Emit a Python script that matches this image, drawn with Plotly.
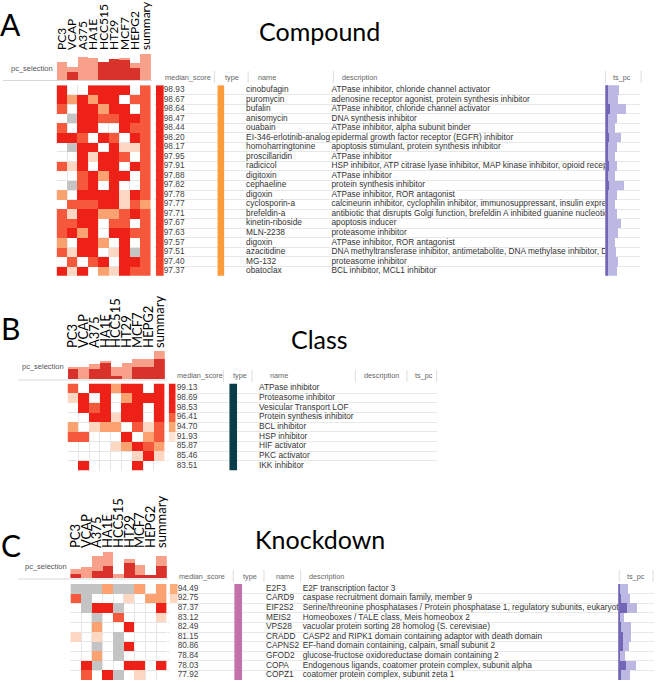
import plotly.graph_objects as go

W, H = 656, 682

CELL_LINES = ["PC3", "VCAP", "A375", "HA1E", "HCC515", "HT29", "MCF7", "HEPG2", "summary"]

# ---------------- Panel A : Compound ----------------
A_names = ["cinobufagin", "puromycin", "bufalin", "anisomycin", "ouabain",
           "EI-346-erlotinib-analog", "homoharringtonine", "proscillaridin", "radicicol",
           "digitoxin", "cephaeline", "digoxin", "cyclosporin-a", "brefeldin-a",
           "kinetin-riboside", "MLN-2238", "digoxin", "azacitidine", "MG-132", "obatoclax"]
A_desc = ["ATPase inhibitor, chloride channel activator",
          "adenosine receptor agonist, protein synthesis inhibitor",
          "ATPase inhibitor, chloride channel activator",
          "DNA synthesis inhibitor",
          "ATPase inhibitor, alpha subunit binder",
          "epidermal growth factor receptor (EGFR) inhibitor",
          "apoptosis stimulant, protein synthesis inhibitor",
          "ATPase inhibitor",
          "HSP inhibitor, ATP citrase lyase inhibitor, MAP kinase inhibitor, opioid receptor antagonist",
          "ATPase inhibitor",
          "protein synthesis inhibitor",
          "ATPase inhibitor, ROR antagonist",
          "calcineurin inhibitor, cyclophilin inhibitor, immunosuppressant, insulin expression inhibitor",
          "antibiotic that disrupts Golgi function, brefeldin A inhibited guanine nucleotide-exchange protein inhibitor",
          "apoptosis inducer",
          "proteasome inhibitor",
          "ATPase inhibitor, ROR antagonist",
          "DNA methyltransferase inhibitor, antimetabolite, DNA methylase inhibitor, DNA synthesis inhibitor",
          "proteasome inhibitor",
          "BCL inhibitor, MCL1 inhibitor"]
A_median = [98.93, 98.67, 98.64, 98.47, 98.44, 98.20, 98.17, 97.95, 97.91, 97.88,
            97.82, 97.78, 97.77, 97.71, 97.67, 97.63, 97.57, 97.51, 97.40, 97.37]
A_type = "compound"
# cell levels: 0 = none (white), 1..4 = increasing connectivity, -1 = not available (grey)
A_cells = [
    [4, 0, 0, 4, 4, 4, 4, 0, 3],
    [4, 2, 4, 2, 4, 4, 0, 3, 3],
    [3, 0, 4, 4, 2, 4, 4, 0, 3],
    [0, -1, 4, 4, 3, 3, 4, 4, 3],
    [3, 0, 4, 4, 0, 0, 4, 3, 3],
    [4, 4, 3, 0, 4, 3, 0, 4, 3],
    [0, -1, 4, 4, 0, 4, 1, 1, 3],
    [0, 0, 4, 1, 4, 4, 3, 0, 3],
    [3, 1, 4, 0, 4, 4, 0, 4, 3],
    [0, 0, 3, 4, 2, 4, 4, 0, 3],
    [0, -1, 3, 4, 0, 4, 0, 0, 3],
    [2, 0, 4, 4, 4, 4, 1, 4, 3],
    [0, 3, 3, 3, 4, 4, 1, 3, 2],
    [3, 1, 4, 4, 2, 2, 3, 4, 3],
    [3, 3, 4, 4, 0, 3, 3, 0, 3],
    [3, 4, 2, 4, 0, 4, 4, 3, 3],
    [2, 0, 4, 4, 2, 0, 4, 0, 3],
    [3, 1, 4, 4, 0, 1, 4, -1, 3],
    [0, 3, 0, 3, 4, 0, 4, 4, 3],
    [4, 1, 4, 0, 2, 1, 4, 3, 3],
]
A_pc_total = [18, 13, 23, 22, 18, 21, 22, 17, 26]
A_pc_sel = [0, 8, 0, 0, 18, 21, 20, 12, 0]
A_ts_light = [14, 13, 21, 12, 10, 16, 12, 10, 12, 10, 19, 12, 10, 12, 16, 13, 10, 11, 13, 12]
A_ts_dark = [3, 3, 5, 3, 3, 4, 3, 3, 4, 3, 4, 3, 3, 3, 3, 3, 3, 3, 3, 3]

# ---------------- Panel B : Class ----------------
B_names = ["ATPase inhibitor", "Proteasome inhibitor", "Vesicular Transport LOF",
           "Protein synthesis inhibitor", "BCL inhibitor", "HSP inhibitor",
           "HIF activator", "PKC activator", "IKK inhibitor"]
B_desc = [""] * 9
B_median = [99.13, 98.69, 98.53, 96.41, 94.70, 91.93, 85.87, 85.46, 83.51]
B_type = "class"
B_cells = [
    [3, 0, 4, 4, 2, 4, 4, 0, 4],
    [1, 4, 0, 4, 0, 2, 4, 4, 4],
    [0, 4, 3, 4, 0, 4, 4, 0, 4],
    [0, 0, 4, 4, 1, 4, 4, 0, 4],
    [2, 0, 1, 2, 2, 0, 3, 1, 3],
    [3, 3, 0, 0, 0, 4, 0, 2, 3],
    [0, 0, 0, 0, 1, 2, 4, 3, 2],
    [0, 0, 0, 0, 0, 0, 1, 4, 1],
    [0, 4, 0, 0, 0, 0, 4, 0, 0],
]
B_pc_total = [12, 12, 15, 18, 12, 16, 20, 20, 28]
B_pc_sel = [10, 0, 10, 16, 3, 0, 12, 12, 20]

# ---------------- Panel C : Knockdown ----------------
C_names = ["E2F3", "CARD9", "EIF2S2", "MEIS2", "VPS28", "CRADD", "CAPNS2", "GFOD2", "COPA", "COPZ1"]
C_desc = ["E2F transcription factor 3",
          "caspase recruitment domain family, member 9",
          "Serine/threonine phosphatases / Protein phosphatase 1, regulatory subunits, eukaryotic translation initiation factor 2",
          "Homeoboxes / TALE class, Meis homeobox 2",
          "vacuolar protein sorting 28 homolog (S. cerevisiae)",
          "CASP2 and RIPK1 domain containing adaptor with death domain",
          "EF-hand domain containing, calpain, small subunit 2",
          "glucose-fructose oxidoreductase domain containing 2",
          "Endogenous ligands, coatomer protein complex, subunit alpha",
          "coatomer protein complex, subunit zeta 1"]
C_median = [94.49, 92.75, 87.37, 83.12, 82.49, 81.15, 80.86, 78.84, 78.03, 77.92]
C_type = "knockdown"
C_cells = [
    [-1, -1, -1, 2, -1, -1, 2, 0, 2],
    [3, -1, 0, 0, 0, 1, 0, 2, 2],
    [0, -1, 4, 4, -1, 0, 0, 0, 4],
    [0, 0, -1, 0, 3, 0, 0, 0, 1],
    [0, 0, 2, 0, 0, 4, 0, 0, 0],
    [1, 0, 1, 0, -1, 0, 0, 0, 0],
    [0, 0, -1, 0, -1, 4, 0, 0, 0],
    [0, 0, 2, 0, -1, 0, 0, 0, 0],
    [0, 4, -1, 0, 0, 4, 4, 0, 4],
    [0, 3, 0, 4, -1, 0, 1, 0, 0],
]
C_pc_total = [9, 11, 22, 26, 4, 19, 13, 3, 22]
C_pc_sel = [4, 0, 7, 12, 0, 15, 3, 3, 12]
C_ts_light = [10, 12, 19, 6, 13, 13, 11, 7, 18, 12]
C_ts_dark = [2, 3, 9, 2, 3, 5, 5, 2, 8, 3]

# ---------------- styles ----------------
TYPE_COLORS = {"compound": "#fd9a3a", "class": "#0b3d48", "knockdown": "#c470aa"}
CELL_SCALE = [[0, "#c4c4c4"], [0.2, "#c4c4c4"], [0.2, "#fdd7c2"], [0.4, "#fdd7c2"],
              [0.6, "#fba270"], [0.8, "#f5583a"], [1, "#ee2119"]]
MED_SCALE = [[0, "#ffffff"], [0.2, "#ffffff"], [0.36, "#fde4d4"], [0.5, "#fdc9a8"],
             [0.6, "#fbab74"], [0.76, "#f6643f"], [0.9, "#f02d20"], [1, "#ec1c16"]]
PC_LIGHT, PC_DARK = "#f8a089", "#d9322a"
TS_LIGHT, TS_DARK = "#bcb8e4", "#7466b6"
TXT = "Liberation Sans"
HEAD = "Lato"

fig = go.Figure()
LAYOUT = {}
SHAPES = []
ANN = []
counter = [0]


def px_x(a):
    return a / W


def px_y(b):
    return 1 - b / H


BASE_AX = dict(showgrid=False, zeroline=False, showticklabels=False, showline=False,
               ticks="", fixedrange=True)


def add_axes(x0, x1, y0, y1, xkw=None, ykw=None):
    counter[0] += 1
    n = counter[0]
    s = "" if n == 1 else str(n)
    xa = dict(BASE_AX)
    xa.update(domain=[px_x(x0), px_x(x1)], anchor="y" + s)
    if xkw:
        xa.update(xkw)
    ya = dict(BASE_AX)
    ya.update(domain=[px_y(y1), px_y(y0)], anchor="x" + s)
    if ykw:
        ya.update(ykw)
    LAYOUT["xaxis" + s] = xa
    LAYOUT["yaxis" + s] = ya
    return "x" + s, "y" + s


def text_col(xr, yr, xpos, texts, color, size=8.3):
    fig.add_trace(go.Scatter(x=[xpos] * len(texts), y=list(range(len(texts))), text=texts,
                             mode="text", textposition="middle right", cliponaxis=True,
                             textfont=dict(family=TXT, size=size, color=color),
                             hoverinfo="skip", showlegend=False, xaxis=xr, yaxis=yr))


def panel(letter, title, cells, names, desc, median, typ, pc_total, pc_sel, ts_light, ts_dark, g):
    n = len(names)
    r0, r1 = g["rows"]
    rev = [n - 0.5, -0.5]
    bounds = [k + 0.5 for k in range(n)]
    grid_y = dict(range=rev, showgrid=True, gridcolor="#e8e8e8", gridwidth=1,
                  tickmode="array", tickvals=bounds)

    # table (text + row lines)
    t0, t1 = g["tbl"]
    xr, yr = add_axes(t0, t1, r0, r1, xkw=dict(range=[t0, t1]), ykw=grid_y)
    text_col(xr, yr, g["val_x"], [f"{v:.2f}" for v in median], "#444444")
    text_col(xr, yr, g["name_x"], names, "#333333")
    text_col(xr, yr, g["desc_x"], desc, "#333333")

    # ts_pc bars
    if ts_light is not None:
        s0, s1 = g["ts"]
        xr, yr = add_axes(s0, s1, r0, r1, xkw=dict(range=[0, s1 - s0]), ykw=grid_y)
        fig.add_trace(go.Bar(y=list(range(n)), x=ts_light, orientation="h", width=1,
                             marker=dict(color=TS_LIGHT, line_width=0), hoverinfo="skip",
                             showlegend=False, xaxis=xr, yaxis=yr))
        fig.add_trace(go.Bar(y=list(range(n)), x=ts_dark, orientation="h", width=1,
                             marker=dict(color=TS_DARK, line_width=0), hoverinfo="skip",
                             showlegend=False, xaxis=xr, yaxis=yr))

    # median score colour bar
    m0, m1 = g["med"]
    xr, yr = add_axes(m0, m1, r0, r1, xkw=dict(range=[-0.5, 0.5]), ykw=dict(range=rev))
    fig.add_trace(go.Heatmap(z=[[v] for v in median], x=[0], y=list(range(n)),
                             colorscale=MED_SCALE, zmin=88, zmax=99, showscale=False,
                             hoverinfo="skip", xaxis=xr, yaxis=yr))

    # type bar
    c = TYPE_COLORS[typ]
    y0_, y1_ = g["typ"]
    xr, yr = add_axes(y0_, y1_, r0, r1, xkw=dict(range=[-0.5, 0.5]), ykw=dict(range=rev))
    fig.add_trace(go.Heatmap(z=[[1] for _ in range(n)], x=[0], y=list(range(n)),
                             colorscale=[[0, c], [1, c]], showscale=False,
                             hoverinfo="skip", xaxis=xr, yaxis=yr))

    # pc_selection bars with cell line labels on top
    h0, h1 = g["hm"]
    p0, p1 = g["pc"]
    xr, yr = add_axes(h0, h1, p0, p1,
                      xkw=dict(range=[-0.5, 8.5], side="top", showticklabels=True,
                               tickmode="array", tickvals=list(range(9)), ticktext=CELL_LINES,
                               tickangle=-90, ticklabelstandoff=1,
                               tickfont=dict(family=HEAD, size=g["lab_size"], color="black")),
                      ykw=dict(range=[0, p1 - p0]))
    fig.add_trace(go.Bar(x=list(range(9)), y=pc_total, width=1,
                         marker=dict(color=PC_LIGHT, line_width=0), hoverinfo="skip",
                         showlegend=False, xaxis=xr, yaxis=yr))
    fig.add_trace(go.Bar(x=list(range(9)), y=pc_sel, width=1,
                         marker=dict(color=PC_DARK, line_width=0), hoverinfo="skip",
                         showlegend=False, xaxis=xr, yaxis=yr))

    # heatmap of cell lines
    zz = [[None if v == 0 else v for v in row] for row in cells]
    xr, yr = add_axes(h0, h1, r0, r1,
                      xkw=dict(range=[-0.5, 8.5], showgrid=True, gridcolor="#e6e6e6",
                               tickmode="array", tickvals=[k - 0.5 for k in range(10)]),
                      ykw=dict(range=rev, showgrid=True, gridcolor="#e6e6e6",
                               tickmode="array", tickvals=[k - 0.5 for k in range(n + 1)]))
    fig.add_trace(go.Heatmap(z=zz, x=list(range(9)), y=list(range(n)), colorscale=CELL_SCALE,
                             zmin=-1, zmax=4, showscale=False, hoverinfo="skip",
                             xaxis=xr, yaxis=yr))

    # annotations
    ANN.append(dict(text=letter, x=px_x(g["letter"][0]), y=px_y(g["letter"][1]),
                    xref="paper", yref="paper", xanchor="center", yanchor="middle",
                    showarrow=False, font=dict(family=HEAD, size=30, color="black")))
    ANN.append(dict(text=title, x=px_x(319), y=px_y(g["title_y"]), xref="paper", yref="paper",
                    xanchor="center", yanchor="middle", showarrow=False,
                    font=dict(family=HEAD, size=25, color="black")))
    ANN.append(dict(text="pc_selection", x=px_x(g["pcl"][0]), y=px_y(g["pcl"][1]),
                    xref="paper", yref="paper", xanchor="right", yanchor="middle",
                    showarrow=False, font=dict(family=TXT, size=7.5, color="#555555")))
    for txt, hx in g["headers"]:
        ANN.append(dict(text=txt, x=px_x(hx), y=px_y(g["head_y"]), xref="paper", yref="paper",
                        xanchor="left", yanchor="middle", showarrow=False,
                        font=dict(family=TXT, size=7.3, color="#666666")))
    for sx in g["seps"]:
        SHAPES.append(dict(type="line", xref="paper", yref="paper", x0=px_x(sx), x1=px_x(sx),
                           y0=px_y(g["head_y"] - 6), y1=px_y(g["head_y"] + 6),
                           line=dict(color="#dddddd", width=1)))
    lx0, lx1, ly = g["uline"]
    SHAPES.append(dict(type="line", xref="paper", yref="paper", x0=px_x(lx0), x1=px_x(lx1),
                       y0=px_y(ly), y1=px_y(ly), line=dict(color="#d8d8d8", width=1)))


GA = dict(rows=(85.2, 275.8), tbl=(152, 607), ts=(607, 642), med=(154, 162), typ=(216, 223),
          hm=(54, 149), pc=(52, 80), val_x=162, name_x=245, desc_x=331, lab_size=12,
          letter=(8, 24), title_y=31, pcl=(52, 68), head_y=77,
          headers=[("median_score", 161), ("type", 222), ("name", 255),
                   ("description", 340), ("ts_pc", 613)],
          seps=[213, 247, 333, 607, 643], uline=(0, 150, 80.5))
GB = dict(rows=(383.5, 470.5), tbl=(165, 437), med=(167, 174), typ=(228, 236),
          hm=(65, 163), pc=(350, 379), val_x=175, name_x=258, desc_x=357, lab_size=13,
          letter=(8, 328), title_y=339, pcl=(63, 366), head_y=376,
          headers=[("median_score", 173), ("type", 230), ("name", 267),
                   ("description", 362), ("ts_pc", 413)],
          seps=[222, 251, 355, 407, 437], uline=(15, 165, 380))
GC = dict(rows=(584, 680), tbl=(166, 620), ts=(620, 656), med=(168, 176), typ=(233, 241),
          hm=(68, 165), pc=(550, 578), val_x=176, name_x=265, desc_x=302, lab_size=13,
          letter=(8, 545), title_y=539, pcl=(67, 566), head_y=576,
          headers=[("median_score", 175), ("type", 240), ("name", 273),
                   ("description", 306), ("ts_pc", 627)],
          seps=[232, 263, 300, 621, 655], uline=(15, 166, 579))

panel("A", "Compound", A_cells, A_names, A_desc, A_median, A_type,
      A_pc_total, A_pc_sel, A_ts_light, A_ts_dark, GA)
panel("B", "Class", B_cells, B_names, B_desc, B_median, B_type,
      B_pc_total, B_pc_sel, None, None, GB)
panel("C", "Knockdown", C_cells, C_names, C_desc, C_median, C_type,
      C_pc_total, C_pc_sel, C_ts_light, C_ts_dark, GC)

fig.update_layout(**LAYOUT)
fig.update_layout(width=W, height=H, margin=dict(l=0, r=0, t=0, b=0),
                  paper_bgcolor="white", plot_bgcolor="rgba(0,0,0,0)",
                  barmode="overlay", bargap=0, showlegend=False, hovermode=False,
                  annotations=ANN, shapes=SHAPES)

fig.write_html("out.html", config={"displayModeBar": False, "staticPlot": True},
               post_script="document.body.style.margin='0px';document.body.style.overflow='hidden';")
